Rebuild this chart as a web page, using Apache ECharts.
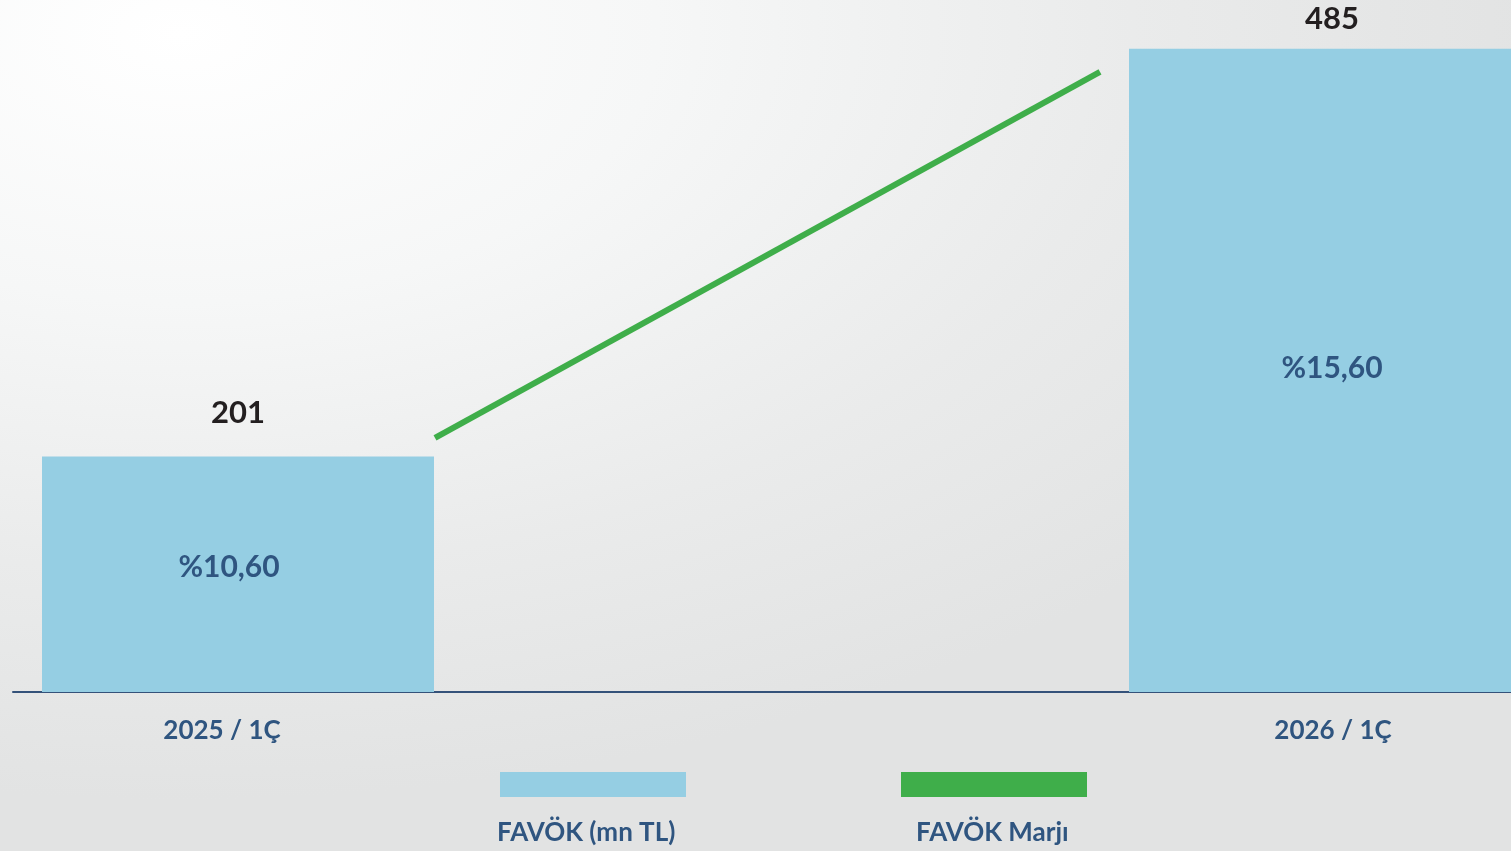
<!DOCTYPE html>
<html>
<head>
<meta charset="utf-8">
<script src="https://cdn.jsdelivr.net/npm/echarts@6/dist/echarts.min.js"></script>
<style>
  html, body { margin: 0; padding: 0; width: 1511px; height: 851px; overflow: hidden; }
  #chart { width: 1511px; height: 851px;
    background: radial-gradient(ellipse 90% 90% at 12% 4%, #ffffff 0%, #f6f7f7 35%, #eaebeb 70%, #e2e3e3 100%); }
</style>
</head>
<body>
<div id="chart"></div>
<script>
const categories = ['2025 / 1Ç', '2026 / 1Ç'];
const favok = [201, 485];
const margin = [10.60, 15.60];
const barName = 'FAVÖK (mn TL)';
const lineName = 'FAVÖK Marjı';

const BLUE = '#95cee3';
const GREEN = '#3fae4a';
const NAVY = '#2f5580';
const FONT = 'Lato, "Open Sans", sans-serif';

function fmtMargin(v) { return '%' + v.toFixed(2).replace('.', ','); }

const valueLabelDist = [28, 14];
const valueLabelOffsets = [[0, 0], [7, 0]];
const marginOffsets = [[-9, -7], [7, -2]];
const catPads = [[0, 32, 0, 0], [0, 0, 0, 16]];
// legend icon: bar swatch on top, text sits below it
const legendIcon = 'path://M0,0 H186 V25 H0 Z M0,122';

const chart = echarts.init(document.getElementById('chart'), null, { renderer: 'canvas' });
chart.setOption({
  backgroundColor: 'transparent',
  animation: false,
  grid: [
    { left: -305.5, right: -357.5, top: 20, bottom: 159, outerBoundsMode: 'none' },
    { left: 435, right: 411, top: 6, bottom: 149.5, outerBoundsMode: 'none' },
    { left: 13, right: 0, top: 20, bottom: 159, outerBoundsMode: 'none' }
  ],
  xAxis: [
    { type: 'category', gridIndex: 0, boundaryGap: true,
      data: categories.map((c, i) => ({ value: c, textStyle: { padding: catPads[i] } })),
      axisLine: { show: false }, axisTick: { show: false }, splitLine: { show: false },
      axisLabel: { margin: 26, color: NAVY, fontFamily: FONT, fontWeight: 'bold', fontSize: 26 } },
    { type: 'category', gridIndex: 1, boundaryGap: false, data: categories, show: false },
    { type: 'category', gridIndex: 2, data: categories,
      axisLine: { show: true, lineStyle: { color: '#34527a', width: 2 } },
      axisTick: { show: false }, axisLabel: { show: false }, splitLine: { show: false } }
  ],
  yAxis: [
    { type: 'value', gridIndex: 0, min: 37, max: 505, show: false, splitLine: { show: false } },
    { type: 'value', gridIndex: 1, min: 7, max: 16.5, show: false, splitLine: { show: false } },
    { type: 'value', gridIndex: 2, show: false, splitLine: { show: false } }
  ],
  legend: [
    { data: [barName], left: 497, top: 772, padding: 0, itemWidth: 186, itemHeight: 122,
      icon: legendIcon, selectedMode: false,
      textStyle: { color: NAVY, fontFamily: FONT, fontWeight: 'bold', fontSize: 26,
                   padding: [0, 194, 0, -194] } },
    { data: [lineName], left: 901, top: 772, padding: 0, itemWidth: 186, itemHeight: 122,
      icon: legendIcon, selectedMode: false,
      textStyle: { color: NAVY, fontFamily: FONT, fontWeight: 'bold', fontSize: 26,
                   padding: [0, 176, 0, -176] } }
  ],
  series: [
    { name: barName, type: 'bar', xAxisIndex: 0, yAxisIndex: 0, barWidth: 392, clip: true,
      itemStyle: { color: BLUE },
      data: favok.map((v, i) => ({ value: v,
        label: { distance: valueLabelDist[i], offset: valueLabelOffsets[i] } })),
      label: { show: true, position: 'top', color: '#231f20', fontFamily: FONT,
               fontWeight: 'bold', fontSize: 31 } },
    { name: 'margin-label', type: 'bar', xAxisIndex: 0, yAxisIndex: 0, barWidth: 392,
      barGap: '-100%', clip: true, silent: true,
      itemStyle: { color: 'rgba(0,0,0,0)' },
      data: favok.map((v, i) => ({ value: v, label: { offset: marginOffsets[i] } })),
      label: { show: true, position: 'inside', color: NAVY, fontFamily: FONT,
               fontWeight: 'bold', fontSize: 30,
               formatter: (p) => fmtMargin(margin[p.dataIndex]) } },
    { name: lineName, type: 'line', xAxisIndex: 1, yAxisIndex: 1, clip: false,
      symbol: 'none', itemStyle: { color: GREEN },
      lineStyle: { color: GREEN, width: 6, cap: 'butt' },
      data: margin }
  ]
});
</script>
</body>
</html>
